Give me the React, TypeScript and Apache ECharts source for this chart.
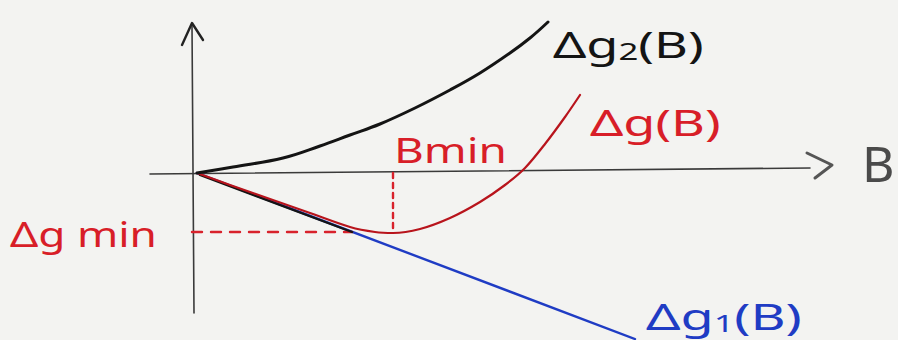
import React, { useEffect, useRef } from "react";
import * as echarts from "echarts";

// Sketch of Δg versus B: two branches Δg1, Δg2 and their combination Δg with its minimum.
const deltaG2: number[][] = [
  [0, 0], [3.6, 0.6], [8.6, 1.5], [12.3, 2.7], [15.3, 3.8], [18.3, 4.9],
  [21.8, 6.5], [25.3, 8.3], [28.3, 10.0], [31.3, 12.0], [33.3, 13.5], [35.1, 15.1],
];
const deltaG: number[][] = [
  [0, 0], [3.3, -1.2], [7.3, -2.6], [11.3, -4.0], [15.3, -5.4], [17.8, -5.9],
  [19.6, -6.0], [22.3, -5.6], [25.3, -4.5], [28.3, -2.9], [30.8, -1.2],
  [32.8, 0.5], [34.8, 2.9], [36.8, 5.6], [38.3, 7.8],
];
const deltaG1: number[][] = [[0, 0], [43.8, -16.6]];
const tangentTrace: number[][] = [[0.3, -0.2], [15.5, -5.9]];
const B_MIN = 19.6;
const DG_MIN = -5.9;

const xAxisLine: number[][] = [[-4.7, -0.1], [61.3, 0.5]];
const xAxisArrow: number[][] = [[61.0, 2.0], [63.5, 0.8], [61.8, -0.5]];
const yAxisLine: number[][] = [[-0.3, -14.0], [-0.5, 14.8]];
const yAxisArrow: number[][] = [[-1.5, 12.8], [-0.5, 15.0], [0.6, 13.3]];

const FONT = "'Noto Sans', 'DejaVu Sans', sans-serif";
const RED = "#b8141c";
const RED_TEXT = "#d81e28";
const BLUE = "#1f3cc4";
const INK = "#141414";
const AXIS = "#3a3a3a";

function lineSeries(data: number[][], color: string, width: number, extra: any = {}) {
  return {
    type: "line",
    data,
    showSymbol: false,
    symbol: "none",
    silent: true,
    lineStyle: { color, width, cap: "round", join: "round", ...(extra.lineStyle || {}) },
    smooth: extra.smooth ?? false,
    z: extra.z ?? 2,
  };
}

function label(text: string, x: number, y: number, fill: string, size: number, scaleX: number) {
  return {
    type: "text", x, y, scaleX, z: 10,
    style: { text, fontFamily: FONT, fontSize: size, fill, verticalAlign: "middle" },
  };
}

function subLabel(main: string, sub: string, tail: string, x: number, y: number, fill: string, scaleX: number) {
  return {
    type: "text", x, y, scaleX, z: 10,
    style: {
      text: `{a|${main}}{s|${sub}}{a|${tail}}`, verticalAlign: "middle",
      rich: {
        a: { fontFamily: FONT, fontSize: 36, fill },
        s: { fontFamily: FONT, fontSize: 24, fill, padding: [14, 0, 0, 0] },
      },
    },
  };
}

export default function App() {
  const ref = useRef<HTMLDivElement>(null);
  useEffect(() => {
    if (!ref.current) return;
    const chart = echarts.init(ref.current, null, { renderer: "svg" });
    chart.setOption({
      animation: false,
      backgroundColor: "#f3f3f1",
      grid: { left: 0, right: 0, top: 0, bottom: 0 },
      xAxis: { type: "value", min: -19.7, max: 70.1, show: false },
      yAxis: { type: "value", min: -16.7, max: 17.3, show: false },
      series: [
        lineSeries(xAxisLine, AXIS, 1.6),
        lineSeries(xAxisArrow, "#555", 3),
        lineSeries(yAxisLine, AXIS, 1.6),
        lineSeries(yAxisArrow, "#222", 2.4),
        lineSeries(deltaG1, BLUE, 2.4, { z: 3 }),
        lineSeries(tangentTrace, INK, 2.4, { z: 4 }),
        lineSeries(deltaG, RED, 2.2, { smooth: 0.3, z: 5 }),
        lineSeries(deltaG2, INK, 3, { smooth: 0.4, z: 5 }),
        lineSeries([[-0.5, DG_MIN], [15.5, DG_MIN]], "#d8222c", 2.4, { lineStyle: { type: [10, 9] }, z: 3 }),
        lineSeries([[B_MIN, 0], [B_MIN, DG_MIN]], "#d8222c", 2.4, { lineStyle: { type: [5, 5] }, z: 3 }),
      ],
      graphic: [
        subLabel("Δg", "2", "(B)", 553, 44, INK, 1.45),
        label("Δg(B)", 590, 122, RED_TEXT, 36, 1.45),
        label("Bmin", 394, 150, RED_TEXT, 34, 1.35),
        label("Δg min", 10, 234, RED_TEXT, 34, 1.3),
        subLabel("Δg", "1", "(B)", 646, 316, BLUE, 1.5),
        label("B", 862, 163, "#4a4a4a", 50, 1.0),
      ],
    });
    return () => chart.dispose();
  }, []);
  return <div ref={ref} style={{ width: 898, height: 340, position: "absolute", left: 0, top: 0 }} />;
}
